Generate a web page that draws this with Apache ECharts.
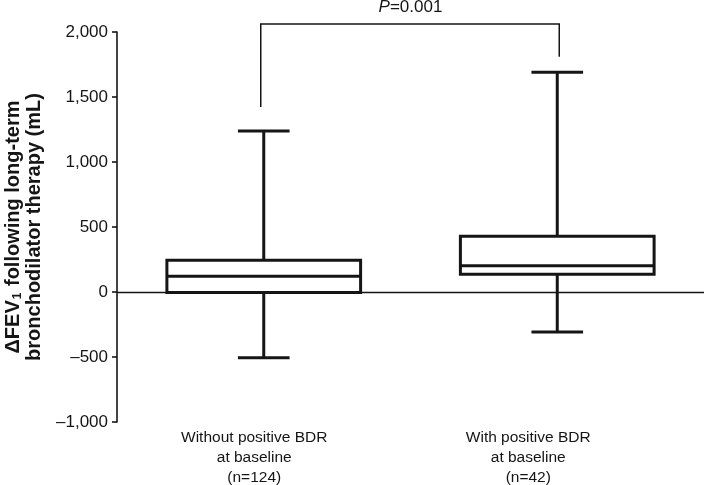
<!DOCTYPE html>
<html>
<head>
    <meta charset="utf-8">
    <title>ΔFEV1 boxplot</title>
    <script src="https://cdn.jsdelivr.net/npm/echarts@6/dist/echarts.min.js"></script>
    <style>
        html, body { margin: 0; padding: 0; background: #fff; }
        #chart { width: 704px; height: 485px; }
    </style>
</head>
<body>
<div id="chart"></div>
<script type="text/javascript">
    // groups on the x axis
    const categories = [
        'Without positive BDR\nat baseline\n(n=124)',
        'With positive BDR\nat baseline\n(n=42)'
    ];
    // box plot values (mL)
    const whiskerLow = [-505, -308];
    const q1 = [-3, 136];
    const median = [122, 202];
    const q3 = [245, 428];
    const whiskerHigh = [1238, 1690];

    // significance bracket
    const bracketTop = 2062;
    const bracketEnds = [1423, 1810];
    const pText = '0.001';

    // y axis ticks
    const yMin = -1000, yMax = 2000, yStep = 500;

    const chart = echarts.init(document.getElementById('chart'));
    const ink = '#151515';
    const font = '"Liberation Sans", Arial, sans-serif';

    const boxData = categories.map(function (c, i) {
        return [i, whiskerLow[i], q1[i], median[i], q3[i], whiskerHigh[i]];
    });

    function renderBox(params, api) {
        const i = api.value(0);
        const band = api.size([1, 0])[0];
        const halfBox = band * 0.33;
        const halfCap = band * 0.088;
        const pLow = api.coord([i, api.value(1)]);
        const pQ1 = api.coord([i, api.value(2)]);
        const pMed = api.coord([i, api.value(3)]);
        const pQ3 = api.coord([i, api.value(4)]);
        const pHigh = api.coord([i, api.value(5)]);
        const x = pMed[0];
        const st = { stroke: ink, lineWidth: 3, fill: null };
        return {
            type: 'group',
            children: [
                { type: 'line', shape: { x1: x, y1: pQ3[1], x2: x, y2: pHigh[1] }, style: st },
                { type: 'line', shape: { x1: x, y1: pQ1[1], x2: x, y2: pLow[1] }, style: st },
                { type: 'line', shape: { x1: x - halfCap, y1: pHigh[1], x2: x + halfCap, y2: pHigh[1] }, style: st },
                { type: 'line', shape: { x1: x - halfCap, y1: pLow[1], x2: x + halfCap, y2: pLow[1] }, style: st },
                {
                    type: 'rect',
                    shape: { x: x - halfBox, y: pQ3[1], width: halfBox * 2, height: pQ1[1] - pQ3[1] },
                    style: { stroke: ink, lineWidth: 3, fill: 'rgba(255,255,255,0)' }
                },
                { type: 'line', shape: { x1: x - halfBox, y1: pMed[1], x2: x + halfBox, y2: pMed[1] }, style: st }
            ]
        };
    }

    function renderBracket(params, api) {
        const a = api.coord([0, bracketEnds[0]]);
        const b = api.coord([1, bracketEnds[1]]);
        const top = api.coord([0, bracketTop])[1];
        const st = { stroke: ink, lineWidth: 1.5, fill: null };
        return {
            type: 'group',
            children: [
                {
                    type: 'polyline',
                    shape: { points: [[a[0] - 3, a[1]], [a[0] - 3, top], [b[0] + 2, top], [b[0] + 2, b[1]]] },
                    style: st
                },
                {
                    type: 'text',
                    x: (a[0] + b[0]) / 2,
                    y: top - 8,
                    style: {
                        text: '{i|P}{n|=' + pText + '}',
                        align: 'center',
                        verticalAlign: 'bottom',
                        rich: {
                            i: { fontStyle: 'italic', fontSize: 17, fontFamily: font, fill: ink },
                            n: { fontSize: 17, fontFamily: font, fill: ink }
                        }
                    }
                }
            ]
        };
    }

    const option = {
        animation: false,
        grid: {
            left: 117,
            right: 0,
            top: 32,
            bottom: 63,
            outerBoundsMode: 'none',
            containLabel: false
        },
        xAxis: {
            type: 'category',
            data: categories,
            axisLine: { show: false },
            axisTick: { show: false },
            axisLabel: {
                margin: 6,
                lineHeight: 20,
                formatter: function (value, idx) {
                    const tag = idx === 0 ? 'a' : 'b';
                    return value.split('\n').map(function (s) {
                        return '{' + tag + '|' + s + '}';
                    }).join('\n');
                },
                rich: {
                    a: { fontSize: 15.5, fontFamily: font, color: ink, lineHeight: 20, padding: [0, 19, 0, 0] },
                    b: { fontSize: 15.5, fontFamily: font, color: ink, lineHeight: 20, padding: [0, 58, 0, 0] }
                }
            }
        },
        yAxis: {
            type: 'value',
            min: yMin,
            max: yMax,
            interval: yStep,
            name: '{b|ΔFEV}{s|1}{b| following long-term}\n{b|bronchodilator therapy (mL)}',
            nameLocation: 'middle',
            nameRotate: 90,
            nameGap: 72,
            nameTextStyle: {
                lineHeight: 21,
                rich: {
                    b: { fontSize: 20, fontWeight: 'bold', fontFamily: font, color: ink, lineHeight: 21 },
                    s: { fontSize: 12, fontWeight: 'bold', fontFamily: font, color: ink, lineHeight: 21, verticalAlign: 'bottom', padding: [8, 1, 0, 1] }
                }
            },
            axisLine: { show: true, lineStyle: { color: ink, width: 1.6 } },
            axisTick: { show: true, length: 5, lineStyle: { color: ink, width: 1.6 } },
            splitLine: { show: false },
            axisLabel: {
                margin: 9,
                fontSize: 17,
                fontFamily: font,
                color: ink,
                formatter: function (v) {
                    const s = Math.abs(v).toLocaleString('en-US');
                    return v < 0 ? '\u2013' + s : s;
                }
            }
        },
        series: [
            {
                type: 'custom',
                renderItem: renderBox,
                clip: false,
                encode: { x: 0, y: [1, 2, 3, 4, 5] },
                data: boxData,
                markLine: {
                    silent: true,
                    symbol: 'none',
                    label: { show: false },
                    lineStyle: { color: ink, width: 1.4, type: 'solid' },
                    data: [{ yAxis: 0 }]
                },
                z: 3
            },
            {
                type: 'custom',
                renderItem: renderBracket,
                clip: false,
                data: [[0, bracketTop]],
                z: 4
            }
        ]
    };
    chart.setOption(option);
    window.addEventListener('resize', chart.resize);
</script>
</body>
</html>
